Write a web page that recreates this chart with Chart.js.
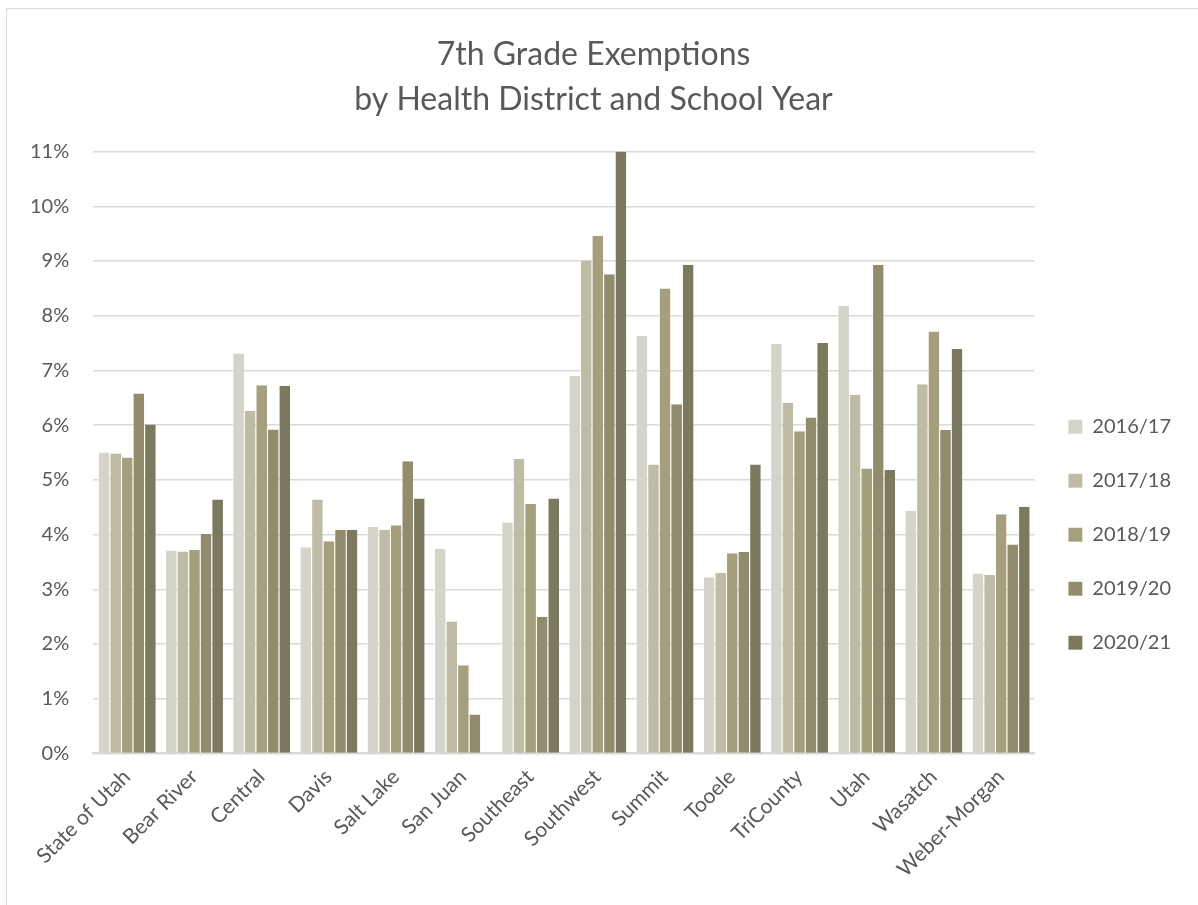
<!DOCTYPE html>
<html lang="en">
<head>
    <meta charset="UTF-8">
    <title>7th Grade Exemptions</title>
    <script src="https://cdn.jsdelivr.net/npm/chart.js"></script>
    <style>
        body {
            margin: 0;
            background: #fff;
        }
        #frame {
            position: absolute;
            left: 6px;
            top: 8px;
            width: 1300px;
            height: 1000px;
            border-left: 1px solid #d9d9d9;
            border-top: 1px solid #d9d9d9;
        }
        #wrap {
            position: absolute;
            left: 0;
            top: 0;
            width: 1198px;
            height: 905px;
        }
    </style>
</head>
<body>
    <div id="frame"></div>
    <div id="wrap"><canvas id="chart"></canvas></div>

    <script>
        const districts = ['State of Utah', 'Bear River', 'Central', 'Davis', 'Salt Lake', 'San Juan',
            'Southeast', 'Southwest', 'Summit', 'Tooele', 'TriCounty', 'Utah', 'Wasatch', 'Weber-Morgan'];
        const years = ['2016/17', '2017/18', '2018/19', '2019/20', '2020/21'];
        const colors = ['#d4d4c8', '#bfbca6', '#a5a07c', '#908c6c', '#7c7a5e'];

        // percent values
        const y2016 = [5.50, 3.71, 7.31, 3.77, 4.14, 3.74, 4.22, 6.90, 7.63, 3.22, 7.49, 8.18, 4.43, 3.29];
        const y2017 = [5.48, 3.69, 6.26, 4.64, 4.09, 2.41, 5.38, 9.01, 5.28, 3.30, 6.41, 6.55, 6.75, 3.26];
        const y2018 = [5.41, 3.72, 6.73, 3.88, 4.17, 1.61, 4.56, 9.46, 8.50, 3.66, 5.89, 5.21, 7.71, 4.37];
        const y2019 = [6.58, 4.01, 5.92, 4.09, 5.34, 0.71, 2.50, 8.76, 6.38, 3.68, 6.14, 8.93, 5.91, 3.82];
        const y2020 = [6.01, 4.64, 6.72, 4.09, 4.66, null, 4.66, 11.0, 8.93, 5.28, 7.50, 5.18, 7.39, 4.51];
        const seriesValues = [y2016, y2017, y2018, y2019, y2020];

        const font = 'Lato, "Open Sans", sans-serif';
        const textColor = '#595959';

        const datasets = years.map((y, i) => ({
            label: y,
            data: seriesValues[i],
            backgroundColor: colors[i],
            borderColor: 'rgba(255,255,255,0.55)',
            borderWidth: { left: 1, right: 0, top: 0, bottom: 0 },
            borderSkipped: false,
            categoryPercentage: 0.86,
            barPercentage: 1.0
        }));

        new Chart(document.getElementById('chart'), {
            type: 'bar',
            data: { labels: districts, datasets: datasets },
            options: {
                responsive: true,
                maintainAspectRatio: false,
                animation: false,
                layout: {
                    padding: { left: 6, right: 17, top: 18, bottom: 20 }
                },
                plugins: {
                    title: {
                        display: true,
                        text: ['7th Grade Exemptions', 'by Health District and School Year'],
                        color: textColor,
                        font: { family: font, size: 32, weight: 'normal', lineHeight: 1.4 },
                        padding: { top: 14, bottom: 30 }
                    },
                    legend: {
                        position: 'right',
                        title: {
                            display: true,
                            text: '',
                            padding: { top: 152, bottom: 0 }
                        },
                        labels: {
                            color: textColor,
                            font: { family: font, size: 20 },
                            boxWidth: 14,
                            boxHeight: 14,
                            padding: 34
                        }
                    },
                    tooltip: { enabled: false }
                },
                scales: {
                    x: {
                        grid: { display: false },
                        border: { color: '#d9d9d9', width: 2 },
                        ticks: {
                            color: textColor,
                            font: { family: font, size: 21 },
                            maxRotation: 45,
                            minRotation: 45,
                            autoSkip: false
                        }
                    },
                    y: {
                        min: 0,
                        max: 11,
                        grid: { color: '#d9d9d9', lineWidth: 1.5, drawTicks: false },
                        border: { display: false },
                        ticks: {
                            stepSize: 1,
                            color: textColor,
                            font: { family: font, size: 20 },
                            padding: 24,
                            callback: v => v + '%'
                        }
                    }
                }
            }
        });
    </script>
</body>
</html>
